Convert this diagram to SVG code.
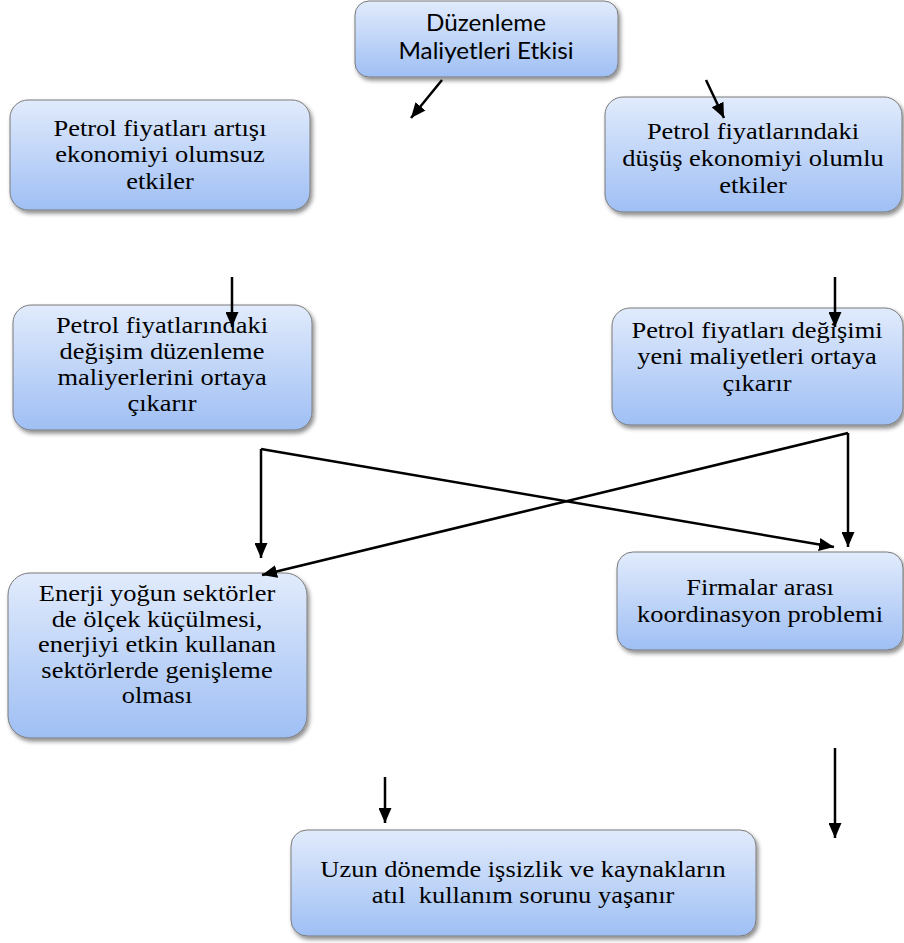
<svg xmlns="http://www.w3.org/2000/svg" width="904" height="943" viewBox="0 0 904 943">
<defs>
<linearGradient id="g" x1="0" y1="0" x2="0" y2="1">
<stop offset="0" stop-color="#e1ebfc"/>
<stop offset="1" stop-color="#9fbff4"/>
</linearGradient>
<filter id="sh" x="-10%" y="-10%" width="125%" height="130%">
<feDropShadow dx="2" dy="3" stdDeviation="2" flood-color="#000" flood-opacity="0.45"/>
</filter>
<marker id="ah" viewBox="0 0 15 13" refX="15" refY="6.5" markerWidth="15" markerHeight="13" markerUnits="userSpaceOnUse" orient="auto">
<path d="M0,0 L15,6.5 L0,13 Z" fill="#000"/>
</marker>
</defs>
<style>
.box{fill:url(#g);stroke:#7a7a7a;stroke-width:1;filter:url(#sh)}
.t{font-family:"Liberation Serif","Times New Roman",serif;font-size:22.8px;fill:#000;text-anchor:middle}
.s{font-family:Lato,"Open Sans","Liberation Sans",sans-serif;font-size:23px;fill:#000;text-anchor:middle}
.c{stroke:#000;stroke-width:2.5;fill:none;marker-end:url(#ah)}
</style>
<rect width="904" height="943" fill="#fff"/>
<g id="n-top">
<rect class="box" x="355" y="1" width="263" height="76" rx="14"/>
<text class="s" x="486" y="31" textLength="120" lengthAdjust="spacingAndGlyphs">Düzenleme</text>
<text class="s" x="486" y="59" textLength="175" lengthAdjust="spacingAndGlyphs">Maliyetleri Etkisi</text>
</g>
<g id="n-artis">
<rect class="box" x="10" y="100" width="300" height="110" rx="18"/>
<g transform="translate(160,0) scale(1.16,1)">
<text class="t" x="0" y="136">Petrol fiyatları artışı</text>
<text class="t" x="0" y="162.5">ekonomiyi olumsuz</text>
<text class="t" x="0" y="189">etkiler</text>
</g>
</g>
<g id="n-dusus">
<rect class="box" x="605" y="97" width="297" height="115" rx="18"/>
<g transform="translate(753,0) scale(1.16,1)">
<text class="t" x="0" y="139">Petrol fiyatlarındaki</text>
<text class="t" x="0" y="166">düşüş ekonomiyi olumlu</text>
<text class="t" x="0" y="193">etkiler</text>
</g>
</g>
<g id="n-degisim">
<rect class="box" x="13" y="305" width="299" height="125" rx="18"/>
<g transform="translate(162,0) scale(1.16,1)">
<text class="t" x="0" y="333">Petrol fiyatlarındaki</text>
<text class="t" x="0" y="359">değişim düzenleme</text>
<text class="t" x="0" y="385">maliyerlerini ortaya</text>
<text class="t" x="0" y="411">çıkarır</text>
</g>
</g>
<g id="n-yeni">
<rect class="box" x="612" y="308" width="291" height="117" rx="18"/>
<g transform="translate(757,0) scale(1.16,1)">
<text class="t" x="0" y="338">Petrol fiyatları değişimi</text>
<text class="t" x="0" y="364.5">yeni maliyetleri ortaya</text>
<text class="t" x="0" y="391">çıkarır</text>
</g>
</g>
<g id="n-enerji">
<rect class="box" x="8" y="573" width="299" height="165" rx="22"/>
<g transform="translate(157,0) scale(1.16,1)">
<text class="t" x="0" y="601">Enerji yoğun sektörler</text>
<text class="t" x="0" y="626.6">de ölçek küçülmesi,</text>
<text class="t" x="0" y="652.2">enerjiyi etkin kullanan</text>
<text class="t" x="0" y="677.8">sektörlerde genişleme</text>
<text class="t" x="0" y="703.4">olması</text>
</g>
</g>
<g id="n-firma">
<rect class="box" x="617" y="552" width="286" height="98" rx="16"/>
<g transform="translate(760,0) scale(1.16,1)">
<text class="t" x="0" y="595">Firmalar arası</text>
<text class="t" x="0" y="622">koordinasyon problemi</text>
</g>
</g>
<g id="n-uzun">
<rect class="box" x="291" y="830" width="465" height="106" rx="16"/>
<g transform="translate(523,0) scale(1.16,1)">
<text class="t" x="0" y="877">Uzun dönemde işsizlik ve kaynakların</text>
<text class="t" x="0" y="903" xml:space="preserve">atıl  kullanım sorunu yaşanır</text>
</g>
</g>
<g id="connectors">
<line class="c" x1="442" y1="80" x2="411" y2="118"/>
<line class="c" x1="706" y1="80" x2="724" y2="118"/>
<line class="c" x1="232" y1="277" x2="232" y2="327"/>
<line class="c" x1="835" y1="277" x2="835" y2="327"/>
<line class="c" x1="261" y1="449" x2="261" y2="558"/>
<line class="c" x1="261" y1="449" x2="834" y2="547"/>
<line class="c" x1="848" y1="433" x2="848" y2="547"/>
<line class="c" x1="848" y1="433" x2="262" y2="575"/>
<line class="c" x1="385" y1="777" x2="385" y2="823"/>
<line class="c" x1="835" y1="748" x2="835" y2="838"/>
</g>
</svg>
